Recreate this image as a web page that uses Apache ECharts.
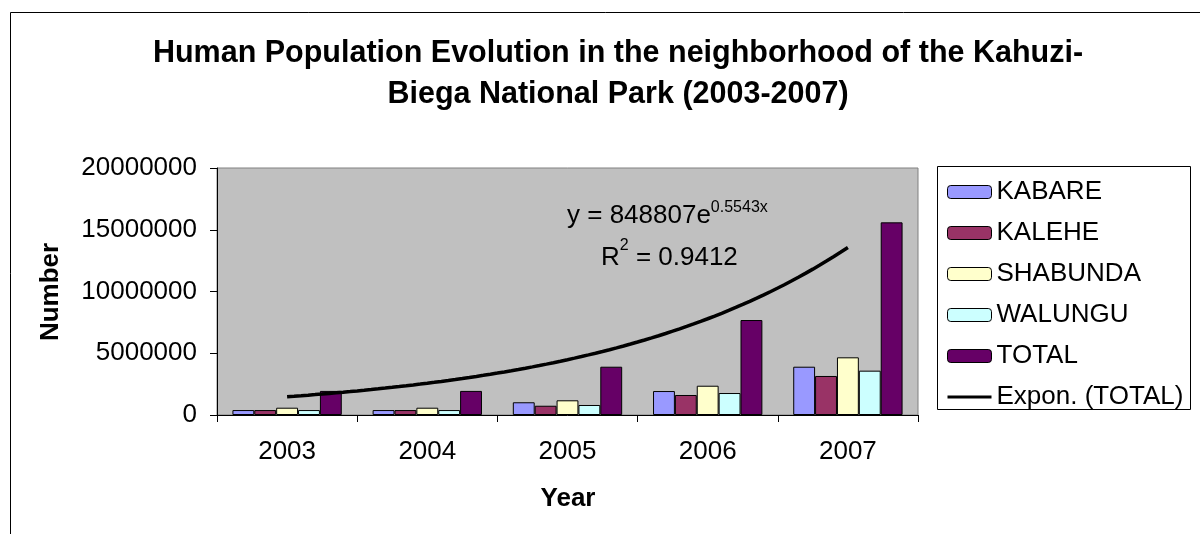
<!DOCTYPE html>
<html>
<head>
<meta charset="utf-8">
<title>Human Population Evolution - Kahuzi-Biega National Park</title>
<script src="https://cdn.jsdelivr.net/npm/echarts@6/dist/echarts.min.js"></script>
<style>
  html, body { margin: 0; padding: 0; background: #ffffff; }
  #chart { width: 1200px; height: 534px; }
</style>
</head>
<body>
<div id="chart"></div>
<script>
// Census years and population per territory
const years    = ['2003', '2004', '2005', '2006', '2007'];
const kabare   = [400000, 400000, 1030000, 1940000, 3910000];
const kalehe   = [400000, 400000, 750000, 1620000, 3160000];
const shabunda = [590000, 590000, 1190000, 2370000, 4670000];
const walungu  = [400000, 400000, 810000, 1780000, 3590000];
const total    = [1950000, 1950000, 3910000, 7690000, 15600000];

// Exponential trend fitted to TOTAL: y = a * e^(b * x), x = 1..5
const trendA  = 848807;
const trendB  = 0.5543;
const trendR2 = 0.9412;

const seriesNames  = ['KABARE', 'KALEHE', 'SHABUNDA', 'WALUNGU', 'TOTAL'];
const seriesValues = [kabare, kalehe, shabunda, walungu, total];
const seriesColors = ['#9999FF', '#993366', '#FFFFCC', '#CCFFFF', '#660066'];
const trendName = 'Expon. (TOTAL)';

const FONT = '"Liberation Sans", Arial, sans-serif';

// Trend curve sampled along the category positions (1 = first year)
const trendPoints = [];
for (let i = 0; i <= 80; i++) {
  const x = 1 + i * 0.05;
  trendPoints.push([x, trendA * Math.exp(trendB * x)]);
}

// Legend key for the trend: a horizontal stroke across the key box
// (tiny corner specks keep the full key height so the stroke is not stretched)
const trendKeyIcon = 'path://M0,5L44,5L44,8L0,8Z M0,0L0.01,0L0,0.01Z M44,13L43.99,13L44,12.99Z';

const barSeries = seriesNames.map((name, i) => ({
  name: name,
  type: 'bar',
  xAxisIndex: 0,
  yAxisIndex: 0,
  data: seriesValues[i],
  barGap: '0%',
  barCategoryGap: '22%',
  itemStyle: { color: seriesColors[i], borderColor: '#000000', borderWidth: 1 }
}));

const chart = echarts.init(document.getElementById('chart'), null, { renderer: 'canvas' });

chart.setOption({
  animation: false,
  backgroundColor: '#ffffff',
  textStyle: { fontFamily: FONT, color: '#000000' },
  grid: {
    left: 217, right: 282, top: 168, bottom: 119,
    show: true,
    backgroundColor: '#C0C0C0',
    borderColor: '#808080',
    borderWidth: 1,
    containLabel: false,
    outerBoundsMode: 'none'
  },
  xAxis: [
    {
      type: 'category',
      data: years,
      boundaryGap: true,
      axisLine: { show: true, lineStyle: { color: '#000000', width: 1 } },
      axisTick: { show: true, length: 7, alignWithLabel: false, lineStyle: { color: '#000000' } },
      axisLabel: { fontSize: 26, color: '#000000', margin: 24, fontFamily: FONT },
      splitLine: { show: false }
    },
    {
      type: 'value',
      min: 0.5,
      max: 5.5,
      show: false,
      splitLine: { show: false }
    }
  ],
  yAxis: {
    type: 'value',
    min: 0,
    max: 20000000,
    interval: 5000000,
    axisLine: { show: true, lineStyle: { color: '#000000', width: 1 } },
    axisTick: { show: true, length: 7, lineStyle: { color: '#000000' } },
    axisLabel: { fontSize: 26, color: '#000000', margin: 20, fontFamily: FONT, formatter: v => String(v) },
    splitLine: { show: false }
  },
  legend: {
    orient: 'vertical',
    left: 947,
    top: 179,
    itemWidth: 44,
    itemHeight: 13,
    itemGap: 15,
    padding: 0,
    textStyle: { fontSize: 26, color: '#000000', fontFamily: FONT },
    data: seriesNames.map((n, i) => ({
      name: n,
      itemStyle: { color: seriesColors[i], borderColor: '#000000', borderWidth: 1 }
    })).concat([{
      name: trendName,
      icon: trendKeyIcon,
      itemStyle: { color: '#000000', borderWidth: 0 }
    }])
  },
  series: barSeries.concat([{
    name: trendName,
    type: 'line',
    xAxisIndex: 1,
    yAxisIndex: 0,
    data: trendPoints,
    symbol: 'none',
    smooth: false,
    z: 5,
    lineStyle: { color: '#000000', width: 3.5 },
    itemStyle: { color: '#000000' }
  }]),
  graphic: [
    // outer chart frame (extends past the right and bottom edges)
    {
      type: 'rect', silent: true, z: 0,
      shape: { x: 10.5, y: 12.5, width: 1400, height: 700 },
      style: { fill: 'none', stroke: '#000000', lineWidth: 1 }
    },
    // legend frame
    {
      type: 'rect', silent: true, z: 0,
      shape: { x: 937.5, y: 166.5, width: 253, height: 243 },
      style: { fill: '#ffffff', stroke: '#000000', lineWidth: 1 }
    },
    // title
    {
      type: 'text', silent: true,
      style: {
        x: 618, y: 33,
        text: 'Human Population Evolution in the neighborhood of the Kahuzi-\nBiega National Park (2003-2007)',
        font: 'bold 30.5px ' + FONT,
        lineHeight: 41,
        fill: '#000000',
        textAlign: 'center',
        textVerticalAlign: 'top'
      }
    },
    // axis titles
    {
      type: 'text', silent: true,
      style: {
        x: 568, y: 499, text: 'Year',
        font: 'bold 26px ' + FONT, fill: '#000000',
        textAlign: 'center', textVerticalAlign: 'middle'
      }
    },
    {
      type: 'text', silent: true,
      x: 51, y: 292, rotation: Math.PI / 2,
      style: {
        x: 0, y: 0, text: 'Number',
        font: 'bold 26px ' + FONT, fill: '#000000',
        textAlign: 'center', textVerticalAlign: 'middle'
      }
    },
    // trend equation and goodness of fit
    {
      type: 'text', silent: true, z: 10,
      style: {
        x: 567, y: 215.5,
        text: '{m|y = ' + trendA + 'e}{s|' + trendB + 'x}',
        textVerticalAlign: 'middle',
        rich: {
          m: { fontSize: 26, fontFamily: FONT, color: '#000000', lineHeight: 32 },
          s: { fontSize: 16, fontFamily: FONT, color: '#000000', lineHeight: 16, verticalAlign: 'top' }
        }
      }
    },
    {
      type: 'text', silent: true, z: 10,
      style: {
        x: 601, y: 257.5,
        text: '{m|R}{s|2}{m| = ' + trendR2 + '}',
        textVerticalAlign: 'middle',
        rich: {
          m: { fontSize: 26, fontFamily: FONT, color: '#000000', lineHeight: 40 },
          s: { fontSize: 16, fontFamily: FONT, color: '#000000', lineHeight: 16, verticalAlign: 'top' }
        }
      }
    }
  ]
});
</script>
</body>
</html>
